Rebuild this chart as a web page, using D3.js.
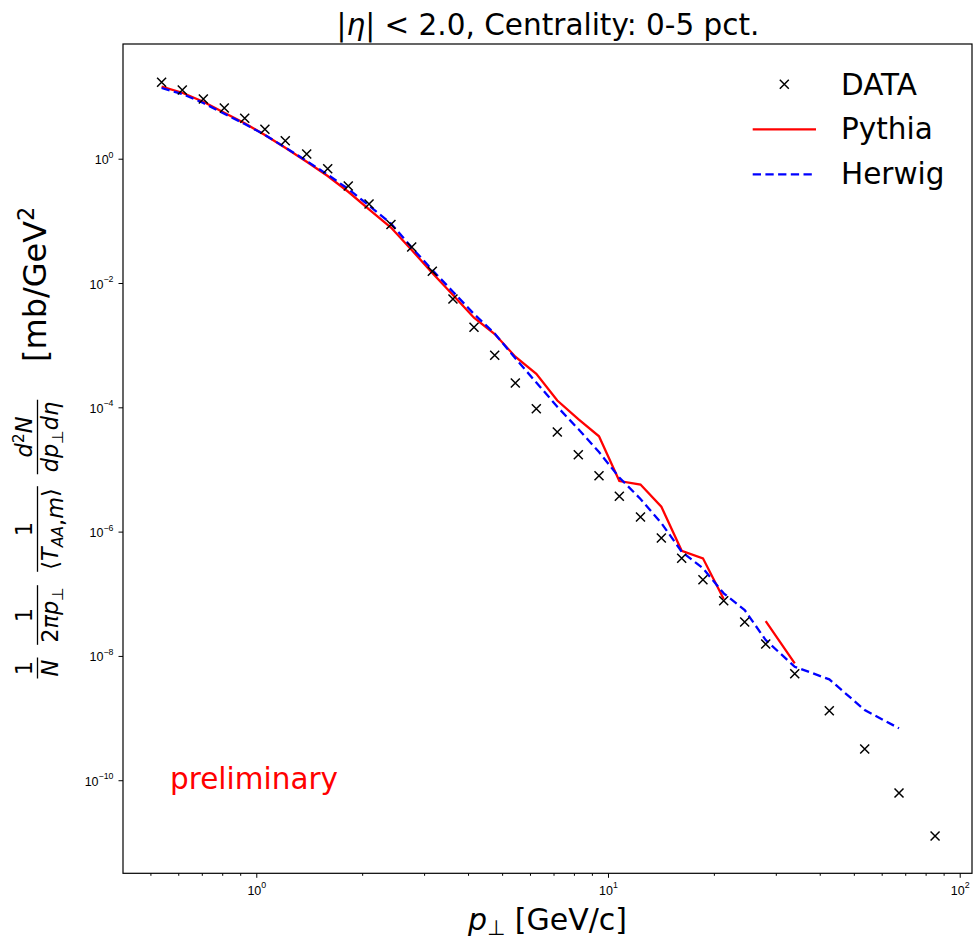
<!DOCTYPE html>
<html>
<head>
<meta charset="utf-8">
<script src="https://cdn.jsdelivr.net/npm/d3@7"></script>
<style>
  body { margin: 0; background: #fff; }
  svg { font-family: "DejaVu Sans", sans-serif; }
</style>
</head>
<body>
<div id="chart"></div>
<script>
var ptBins = [0.538, 0.616, 0.707, 0.811, 0.927, 1.058, 1.209, 1.391, 1.596, 1.826, 2.092, 2.415, 2.766, 3.166,
    3.624, 4.159, 4.763, 5.451, 6.254, 7.175, 8.233, 9.428, 10.77, 12.37, 14.18, 16.20, 18.62, 21.33, 24.47,
    28.08, 33.96, 42.58, 53.69, 67.21, 85.10];
var dataY = [16.96, 12.75, 9.13, 6.54, 4.47, 2.97, 1.95, 1.19, 0.690, 0.364, 0.187, 0.0874, 0.0380, 0.0155,
    5.53e-3, 1.94e-3, 6.87e-4, 2.46e-4, 9.50e-5, 4.00e-5, 1.73e-5, 7.93e-6, 3.71e-6, 1.72e-6, 7.89e-7, 3.72e-7,
    1.68e-7, 7.73e-8, 3.51e-8, 1.55e-8, 5.17e-9, 1.31e-9, 3.18e-10, 6.22e-11, 1.27e-11];
var pythiaY = [14.40, 11.53, 8.26, 5.50, 3.71, 2.41, 1.503, 0.895, 0.527, 0.294, 0.1534, 0.0782, 0.0340, 0.01449,
    6.41e-3, 2.765e-3, 1.511e-3, 6.52e-4, 3.47e-4, 1.286e-4, 6.48e-5, 3.42e-5, 6.52e-6, 5.73e-6, 2.52e-6, 4.93e-7,
    3.72e-7, 8.23e-8, null, 3.64e-8, 7.60e-9];
var herwigY = [13.73, 10.99, 7.88, 5.30, 3.62, 2.41, 1.514, 0.918, 0.553, 0.3254, 0.1766, 0.0907, 0.0373, 0.01619,
    7.24e-3, 3.171e-3, 1.540e-3, 6.14e-4, 2.51e-4, 1.022e-4, 4.47e-5, 1.909e-5, 7.42e-6, 3.35e-6, 1.375e-6, 4.75e-7,
    2.57e-7, 1.016e-7, 5.48e-8, 1.80e-8, 6.70e-9, 4.20e-9, 1.348e-9, 6.84e-10];

var xMajor = [1, 10, 100];
var xMinor = [0.5, 0.6, 0.7, 0.8, 0.9, 2, 3, 4, 5, 6, 7, 8, 9, 20, 30, 40, 50, 60, 70, 80, 90];
var yMajor = [1, 1e-2, 1e-4, 1e-6, 1e-8, 1e-10];

var width = 973, height = 940;
var pLeft = 123, pRight = 972, pTop = 44, pBottom = 873.3;

var svg = d3.select("#chart").append("svg")
    .attr("width", width)
    .attr("height", height);

var x = d3.scaleLog().domain([0.41785, 108.38]).range([pLeft, pRight]);
var y = d3.scaleLog().domain([3.18e-12, 70.1]).range([pBottom, pTop]);

var exp10 = (d) => Math.round(Math.log10(d)).toString().replace("-", "\u2212");

function powLabel(sel, up) {
    sel.each(function (d) {
        var t = d3.select(this);
        t.text(null);
        t.append("tspan").text("10");
        t.append("tspan").attr("dy", up).style("font-size", "8.8px").text(exp10(d));
    });
}

// x axis
svg.append("g")
    .attr("transform", "translate(0," + pBottom + ")")
    .call(d3.axisBottom(x).tickValues(xMinor).tickSize(2.5).tickFormat(""))
    .call((g) => g.select(".domain").remove());
var gx = svg.append("g")
    .attr("transform", "translate(0," + pBottom + ")")
    .call(d3.axisBottom(x).tickValues(xMajor).tickSize(4.5).tickFormat(""));
gx.select(".domain").remove();
gx.selectAll(".tick text")
    .attr("y", 21.7).attr("dy", null)
    .style("font-size", "12.5px").attr("fill", "#000")
    .call(powLabel, -6.5);

// y axis
var gy = svg.append("g")
    .attr("transform", "translate(" + pLeft + ",0)")
    .call(d3.axisLeft(y).tickValues(yMajor).tickSize(4.5).tickFormat(""));
gy.select(".domain").remove();
gy.selectAll(".tick text")
    .attr("x", -9.5).attr("y", 5).attr("dy", null)
    .style("font-size", "12.5px").attr("fill", "#000")
    .call(powLabel, -6.5);

svg.selectAll(".tick line").attr("stroke", "#000").attr("stroke-width", 1);

svg.append("rect")
    .attr("x", pLeft).attr("y", pTop)
    .attr("width", pRight - pLeft).attr("height", pBottom - pTop)
    .attr("fill", "none").attr("stroke", "#000").attr("stroke-width", 1.2);

// model curves
var line = d3.line()
    .defined((d) => d != null)
    .x((d, i) => x(ptBins[i]))
    .y((d) => y(d));

svg.append("path")
    .datum(pythiaY)
    .attr("d", line)
    .attr("fill", "none")
    .attr("stroke", "#ff0000")
    .attr("stroke-width", 2.3);

svg.append("path")
    .datum(herwigY)
    .attr("d", line)
    .attr("fill", "none")
    .attr("stroke", "#0000ff")
    .attr("stroke-width", 2.3)
    .attr("stroke-dasharray", "8.3,4.4");

// data markers
var cross = "M-4.5,-4.5L4.5,4.5M-4.5,4.5L4.5,-4.5";
svg.selectAll(".pt")
    .data(dataY)
    .enter()
    .append("path")
    .attr("class", "pt")
    .attr("d", cross)
    .attr("transform", (d, i) => "translate(" + x(ptBins[i]) + "," + y(d) + ")")
    .attr("stroke", "#000")
    .attr("stroke-width", 1.5)
    .attr("fill", "none");

// legend
var legend = svg.append("g");
legend.append("path").attr("d", cross).attr("transform", "translate(784.3,84.3)")
    .attr("stroke", "#000").attr("stroke-width", 1.5);
legend.append("line").attr("x1", 752.7).attr("x2", 816).attr("y1", 129.3).attr("y2", 129.3)
    .attr("stroke", "#ff0000").attr("stroke-width", 2.3);
legend.append("line").attr("x1", 752.7).attr("x2", 816).attr("y1", 174.3).attr("y2", 174.3)
    .attr("stroke", "#0000ff").attr("stroke-width", 2.3).attr("stroke-dasharray", "8.3,4.4");
legend.selectAll(".lt")
    .data(["DATA", "Pythia", "Herwig"])
    .enter()
    .append("text")
    .attr("x", 841)
    .attr("y", (d, i) => 95 + i * 44.3)
    .attr("font-size", 29.5)
    .text((d) => d);

// title
var title = svg.append("text")
    .attr("x", (pLeft + pRight) / 2 + 0.5)
    .attr("y", 35)
    .attr("text-anchor", "middle")
    .attr("font-size", 29.5);
title.append("tspan").text("|");
title.append("tspan").attr("font-style", "italic").text("\u03b7");
title.append("tspan").text("| < 2.0, Centrality: 0-5 pct.");

// x label
var xl = svg.append("text")
    .attr("x", (pLeft + pRight) / 2)
    .attr("y", 930)
    .attr("text-anchor", "middle")
    .attr("font-size", 30);
xl.append("tspan").attr("font-style", "italic").text("p");
xl.append("tspan").attr("font-size", 21).attr("dy", 5).text("\u22a5");
xl.append("tspan").attr("dy", -5).text("\u00a0[GeV/c]");

svg.append("text")
    .attr("x", 170)
    .attr("y", 789)
    .attr("font-size", 29.5)
    .attr("fill", "#ff0000")
    .text("preliminary");

// y label, built from fractions
var yl = svg.append("g").attr("transform", "translate(37.5,0) rotate(-90)");
var fs = 22.4, sub = 15.7;

function part(t, parts) {
    parts.forEach(function (p) {
        var s = t.append("tspan").text(p[0]);
        if (p[1] && p[1].indexOf("i") >= 0) s.attr("font-style", "italic");
        if (p[1] && p[1].indexOf("_") >= 0) s.attr("font-size", sub).attr("dy", 4.5);
        if (p[1] && p[1].indexOf("^") >= 0) s.attr("font-size", sub).attr("dy", -8);
        if (p[2]) s.attr("dy", p[2]);
    });
}

function frac(cy, num, den) {
    var n = yl.append("text").attr("x", -cy).attr("y", -5.5)
        .attr("text-anchor", "middle").attr("font-size", fs);
    part(n, num);
    var dn = yl.append("text").attr("x", -cy).attr("y", 20.5)
        .attr("text-anchor", "middle").attr("font-size", fs);
    part(dn, den);
    var w = Math.max(n.node().getBBox().width, dn.node().getBBox().width) + 4;
    yl.append("line").attr("x1", -cy - w / 2).attr("x2", -cy + w / 2)
        .attr("y1", 0).attr("y2", 0)
        .attr("stroke", "#000").attr("stroke-width", 1.3);
}

frac(668, [["1"]], [["N", "i"]]);
frac(615, [["1"]], [["2"], ["\u03c0", "i"], ["p", "i"], ["\u22a5", "_"]]);
frac(529, [["1"]], [["\u27e8"], ["T", "i"], ["AA", "i_"], [","], ["m", "i"], ["\u27e9", "", -4.5]]);
frac(437, [["d", "i"], ["2", "^"], ["N", "i", 8]], [["d", "i"], ["p", "i"], ["\u22a5", "_"], ["d", "i", -4.5], ["\u03b7", "i"]]);

var unit = yl.append("text").attr("x", -362).attr("y", 8).attr("font-size", 32);
unit.append("tspan").text("[mb/GeV");
unit.append("tspan").attr("font-size", 22.4).attr("dy", -12).text("2");
</script>
</body>
</html>
